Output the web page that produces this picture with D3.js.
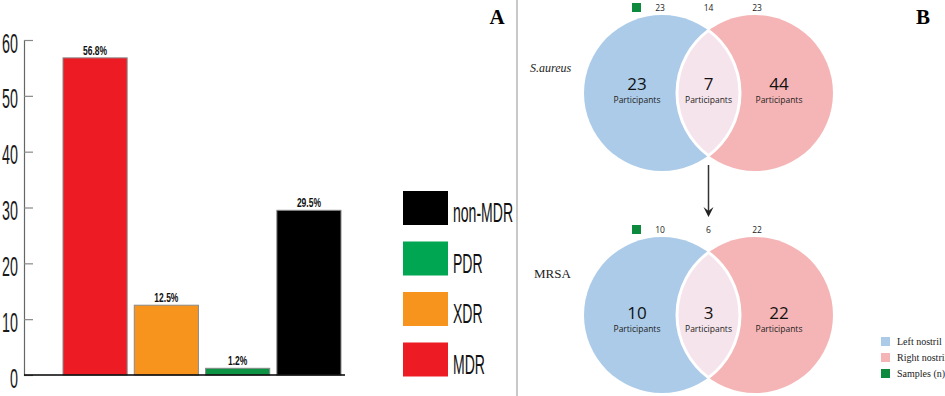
<!DOCTYPE html>
<html>
<head>
<meta charset="utf-8">
<script src="https://cdn.jsdelivr.net/npm/d3@7"></script>
<style>
    body { margin: 0; background: #fff; }
    svg { display: block; }
</style>
</head>
<body>
<script>
// Panel A data
const categories = ["MDR", "XDR", "PDR", "non-MDR"];
const percentages = [56.8, 12.5, 1.2, 29.5];
const yTicks = [0, 10, 20, 30, 40, 50, 60];

// Panel B data
const vennTitles = ["S.aureus", "MRSA"];
const leftOnly = [23, 10];
const shared = [7, 3];
const rightOnly = [44, 22];
const samplesLeft = [23, 10];
const samplesShared = [14, 6];
const samplesRight = [23, 22];
const legendLabelsB = ["Left nostril", "Right nostril", "Samples (n)"];

const width = 945;
const height = 396;

const barColours = { MDR: "#ED1C24", XDR: "#F7941D", PDR: "#0C9344", "non-MDR": "#000000" };
const legendColours = { MDR: "#ED1C24", XDR: "#F7941D", PDR: "#00A651", "non-MDR": "#000000" };
const blue = "#ABCBE8";
const pink = "#F5B5B6";
const lensFill = "#F6E4EC";
const green = "#0E8A3E";

const svg = d3
    .select("body")
    .append("svg")
    .attr("width", width)
    .attr("height", height);

/////////////////////////////
//// Panel A: bar chart /////
/////////////////////////////

const y = d3.scaleLinear().domain([0, 60]).range([375, 40]);
const x = d3.scaleBand().domain(categories).range([63, 341]).paddingInner(0.1);

const yAxis = svg
    .append("g")
    .attr("transform", "translate(24,0)")
    .call(d3.axisLeft(y).tickValues(yTicks).tickSize(-9).tickFormat(d3.format("d")));

yAxis.select(".domain").attr("stroke", "#666").attr("stroke-width", 1.2);
yAxis.selectAll(".tick line").attr("stroke", "#888").attr("stroke-width", 1.2);
yAxis
    .selectAll(".tick text")
    .attr("x", 0)
    .attr("dy", "12")
    .attr("text-anchor", "end")
    .attr("transform", "translate(-6,0) scale(0.53,1)")
    .style("font-family", "'Liberation Sans', Arial, sans-serif")
    .style("font-size", "27px")
    .attr("fill", "#1a1a1a");

svg.selectAll(".bar")
    .data(categories)
    .enter()
    .append("rect")
    .attr("class", "bar")
    .attr("x", (d) => x(d))
    .attr("y", (d, i) => y(percentages[i]))
    .attr("width", x.bandwidth())
    .attr("height", (d, i) => y(0) - y(percentages[i]))
    .attr("fill", (d) => barColours[d])
    .attr("stroke", "#8a8a8a")
    .attr("stroke-width", 1);

svg.selectAll(".bar-label")
    .data(categories)
    .enter()
    .append("text")
    .attr("class", "bar-label")
    .attr("text-anchor", "middle")
    .attr("transform", (d, i) => `translate(${x(d) + x.bandwidth() / 2},${y(percentages[i]) - 3}) scale(0.68,1)`)
    .style("font-family", "'Liberation Sans', Arial, sans-serif")
    .style("font-size", "12.5px")
    .style("font-weight", "bold")
    .attr("fill", "#111")
    .text((d, i) => percentages[i].toFixed(1) + "%");

// baseline
svg.append("line")
    .attr("x1", 24)
    .attr("x2", 345)
    .attr("y1", y(0))
    .attr("y2", y(0))
    .attr("stroke", "#000")
    .attr("stroke-width", 1.6);

// legend, reversed order
const legendOrder = categories.slice().reverse();
const legendA = svg
    .selectAll(".legend-a")
    .data(legendOrder)
    .enter()
    .append("g")
    .attr("class", "legend-a")
    .attr("transform", (d, i) => `translate(403, ${191 + i * 50.5})`);

legendA
    .append("rect")
    .attr("width", 45)
    .attr("height", 34)
    .attr("fill", (d) => legendColours[d]);

legendA
    .append("text")
    .attr("transform", "translate(50,31) scale(0.52,1)")
    .style("font-family", "'Liberation Sans', Arial, sans-serif")
    .style("font-size", "27px")
    .attr("fill", "#111")
    .text((d) => d);

// panel letters + divider
svg.append("text")
    .attr("x", 497)
    .attr("y", 24)
    .attr("text-anchor", "middle")
    .style("font-family", "'Liberation Serif', 'Times New Roman', serif")
    .style("font-size", "21px")
    .style("font-weight", "bold")
    .text("A");

svg.append("text")
    .attr("x", 923)
    .attr("y", 24)
    .attr("text-anchor", "middle")
    .style("font-family", "'Liberation Serif', 'Times New Roman', serif")
    .style("font-size", "21px")
    .style("font-weight", "bold")
    .text("B");

svg.append("line")
    .attr("x1", 517)
    .attr("x2", 517)
    .attr("y1", 0)
    .attr("y2", height)
    .attr("stroke", "#c8c8c8")
    .attr("stroke-width", 2);

/////////////////////////////
//// Panel B: Venn //////////
/////////////////////////////

const r = 78;
const cxLeft = 662;
const cxRight = 755;
const vennY = d3.scaleOrdinal().domain(vennTitles).range([93, 315]);
const numberOffset = [-3, 4];

const mx = (cxLeft + cxRight) / 2;
const h = Math.sqrt(r * r - ((cxRight - cxLeft) / 2) ** 2);

vennTitles.forEach((title, i) => {
    const cy = vennY(title);
    const g = svg.append("g");

    g.append("circle").attr("cx", cxLeft).attr("cy", cy).attr("r", r).attr("fill", blue);
    g.append("circle").attr("cx", cxRight).attr("cy", cy).attr("r", r).attr("fill", pink);

    // overlap lens with white outline
    g.append("path")
        .attr("d", `M${mx},${cy - h} A${r},${r} 0 0 1 ${mx},${cy + h} A${r},${r} 0 0 1 ${mx},${cy - h} Z`)
        .attr("fill", lensFill)
        .attr("stroke", "#fff")
        .attr("stroke-width", 3);

    // counts inside the circles
    const counts = [leftOnly[i], shared[i], rightOnly[i]];
    const xs = [637, mx, 779];
    counts.forEach((c, j) => {
        g.append("text")
            .attr("x", xs[j])
            .attr("y", cy + numberOffset[i])
            .attr("text-anchor", "middle")
            .style("font-family", "'Open Sans', sans-serif")
            .style("font-size", "17px")
            .attr("fill", "#111")
            .text(c);
        g.append("text")
            .attr("x", xs[j])
            .attr("y", cy + numberOffset[i] + 13)
            .attr("text-anchor", "middle")
            .style("font-family", "'Open Sans', sans-serif")
            .style("font-size", "8.5px")
            .attr("fill", "#222")
            .text("Participants");
    });

    // samples row above
    const rowY = cy - 82;
    g.append("rect")
        .attr("x", 632)
        .attr("y", rowY - 8)
        .attr("width", 9)
        .attr("height", 9)
        .attr("fill", green);
    const samples = [samplesLeft[i], samplesShared[i], samplesRight[i]];
    const sx = [660, mx, 757];
    samples.forEach((s, j) => {
        g.append("text")
            .attr("x", sx[j])
            .attr("y", rowY)
            .attr("text-anchor", "middle")
            .style("font-family", "'Open Sans', sans-serif")
            .style("font-size", "8.5px")
            .attr("fill", "#222")
            .text(s);
    });

    // title at left
    g.append("text")
        .attr("x", i === 0 ? 530 : 534)
        .attr("y", i === 0 ? 72 : 278)
        .style("font-family", "'Liberation Serif', 'Times New Roman', serif")
        .style("font-size", i === 0 ? "12px" : "13px")
        .style("font-style", i === 0 ? "italic" : "normal")
        .attr("fill", "#222")
        .text(title);
});

// arrow between the Venns
svg.append("line")
    .attr("x1", mx)
    .attr("x2", mx)
    .attr("y1", 165)
    .attr("y2", 214)
    .attr("stroke", "#333")
    .attr("stroke-width", 1.5);
svg.append("path")
    .attr("d", `M${mx - 5},${207} L${mx},${217} L${mx + 5},${207} L${mx},${211} Z`)
    .attr("fill", "#222");

// legend panel B
const legendColoursB = [blue, pink, green];
const legendB = svg
    .selectAll(".legend-b")
    .data(legendLabelsB)
    .enter()
    .append("g")
    .attr("class", "legend-b")
    .attr("transform", (d, i) => `translate(881, ${337 + i * 16})`);

legendB
    .append("rect")
    .attr("width", 9)
    .attr("height", 9)
    .attr("fill", (d, i) => legendColoursB[i]);

legendB
    .append("text")
    .attr("x", 16)
    .attr("y", 8)
    .style("font-family", "'Liberation Serif', 'Times New Roman', serif")
    .style("font-size", "10px")
    .attr("fill", "#222")
    .text((d) => d);
</script>
</body>
</html>
